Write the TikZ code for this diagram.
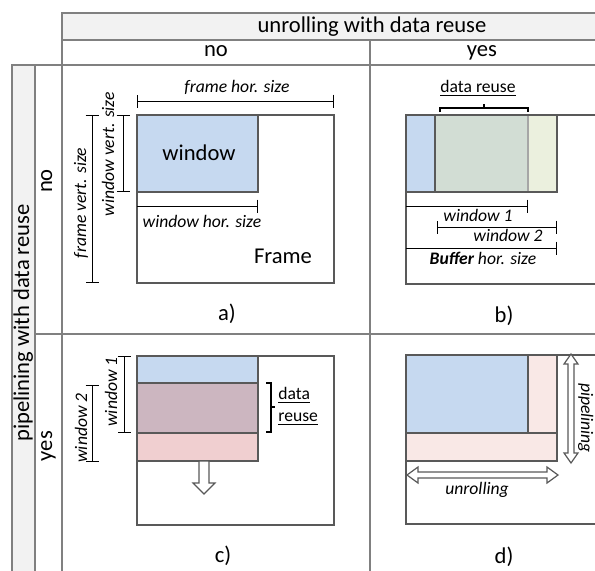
\documentclass[tikz,border=0pt]{standalone}
\usepackage{fontspec}
\setmainfont{Carlito}
\usetikzlibrary{arrows.meta}
\definecolor{gridc}{HTML}{808080}
\definecolor{framec}{HTML}{595959}
\definecolor{hdrfill}{HTML}{F2F2F2}
\definecolor{winblue}{HTML}{C6D9F0}
\definecolor{overlapgreen}{HTML}{D2DDD4}
\definecolor{wingreen}{HTML}{EBF0DE}
\definecolor{winmauve}{HTML}{CCB6C0}
\definecolor{winpink}{HTML}{F0CFD0}
\definecolor{lightpink}{HTML}{F9E8E6}
\definecolor{faintline}{HTML}{A6A6A6}
\begin{document}
\begin{tikzpicture}[x=0.5pt,y=-0.5pt,
  grid/.style={draw=gridc,line width=0.75pt},
  frm/.style={draw=framec,line width=0.65pt},
  big/.style={font=\fontsize{11.3}{13.5}\selectfont,inner sep=0pt,anchor=base},
  lbl/.style={font=\fontsize{8.8}{10.6}\selectfont\itshape,inner sep=0pt,anchor=base},
  plain/.style={font=\fontsize{8.8}{10.6}\selectfont,inner sep=0pt,anchor=base},
  dim/.style={line width=0.5pt,{Bar[width=6.5pt]}-{Bar[width=6.5pt]}},
  dimr/.style={line width=0.5pt,-{Bar[width=6.5pt]}},
  brk/.style={line width=0.65pt},
  hollow/.style={draw=framec,fill=white,line width=0.6pt,line join=miter}]

\useasboundingbox (0,0) rectangle (595,570);
\clip (0,0) rectangle (595,570);

% ---------- table ----------
\fill[hdrfill] (62,13) rectangle (640,40);
\fill[hdrfill] (12,65) rectangle (35,600);
\draw[grid] (640,13) -- (62,13) -- (62,600);
\draw[grid] (62,40) -- (640,40);
\draw[grid] (12,600) -- (12,65) -- (640,65);
\draw[grid] (35,65) -- (35,600);
\draw[grid] (370,40) -- (370,600);
\draw[grid] (35,334) -- (640,334);

\node[big] (hdr) at (372,32) {unrolling with data reuse};
\node[big] (colno) at (216,56) {no};
\node[big] (colyes) at (482,56) {yes};
\node[big,rotate=90] (rowhdr) at (29,323) {pipelining with data reuse};
\node[big,rotate=90] (rowno) at (52,181) {no};
\node[big,rotate=90] (rowyes) at (52,446) {yes};

% ---------- a) ----------
\draw[frm] (137,115) rectangle (334,283);
\draw[frm,fill=winblue] (137,115) rectangle (258,192);
\node[big] (wina) at (199,160) {window};
\node[big] (framea) at (283,263) {Frame};
\draw[dim] (137,101) -- (334,101);
\node[lbl] (fhs) at (237,92) {frame hor. size};
\draw[dim] (123,115) -- (123,192);
\node[lbl,rotate=90] (wvs) at (114,154) {window vert. size};
\draw[dim] (92,115) -- (92,283);
\node[lbl,rotate=90] (fvs) at (86,203) {frame vert. size};
\draw[dimr] (137,206) -- (258,206);
\node[lbl] (whs) at (202,227) {window hor. size};
\node[big] (capa) at (227,320) {a)};

% ---------- b) ----------
\draw[frm] (406,115) rectangle (640,284);
\fill[winblue] (406,115) rectangle (435,192);
\fill[overlapgreen] (435,115) rectangle (528,192);
\fill[wingreen] (528,115) rectangle (557,192);
\draw[faintline,line width=0.6pt] (528,115) -- (528,192);
\draw[frm] (406,115) rectangle (557,192);
\draw[frm] (435,115) -- (435,192);
\draw[brk] (440,112) -- (440,108) -- (528,108) -- (528,112);
\draw[brk] (484,108) -- (484,104);
\node[plain] (reuseb) at (478,92) {\underline{data reuse}};
\draw[dimr] (406,206) -- (528,206);
\node[lbl] (w1b) at (478,221) {window 1};
\draw[dim] (437,227) -- (557,227);
\node[lbl] (w2b) at (508,241) {window 2};
\draw[dimr] (406,248) -- (557,248);
\node[lbl] (bufb) at (483,264) {\textbf{Buffer} hor. size};
\node[big] (capb) at (504,322) {b)};

% ---------- c) ----------
\draw[frm] (137,356) rectangle (334,525);
\fill[winblue] (137,356) rectangle (258,383);
\fill[winmauve] (137,383) rectangle (258,433);
\fill[winpink] (137,433) rectangle (258,461);
\draw[frm] (137,356) rectangle (258,461);
\draw[frm] (137,383) -- (258,383);
\draw[frm] (137,433) -- (258,433);
\draw[hollow] (199,461) -- (209,461) -- (209,483) -- (215,483) -- (204,494)
  -- (193,483) -- (199,483) -- cycle;
\draw[dim] (124,356) -- (124,433);
\node[lbl,rotate=90] (w1c) at (117,392) {window 1};
\draw[dim] (92,385) -- (92,462);
\node[lbl,rotate=90] (w2c) at (87,428) {window 2};
\draw[brk] (266,383) -- (271,383) -- (271,432) -- (266,432);
\draw[brk] (271,407) -- (275,407);
\node[plain,anchor=base west] (reusec1) at (278,399) {\underline{data}};
\node[plain,anchor=base west] (reusec2) at (278,421) {\underline{reuse}};
\node[big] (capc) at (223,562) {c)};

% ---------- d) ----------
\draw[frm] (406,355) rectangle (640,524);
\fill[lightpink] (406,355) rectangle (557,461);
\fill[winblue] (406,355) rectangle (528,433);
\draw[frm] (406,355) rectangle (557,461);
\draw[frm] (406,433) -- (557,433);
\draw[frm] (528,355) -- (528,433);
% pipelining double arrow
\draw[hollow] (571,354) -- (578,364) -- (574,364) -- (574,453) -- (578,453)
  -- (571,463) -- (564,453) -- (568,453) -- (568,364) -- (564,364) -- cycle;
\node[lbl,rotate=-90] (pipe) at (581,418) {pipelining};
% unrolling double arrow
\draw[hollow] (407,475) -- (418,467) -- (418,472) -- (547,472) -- (547,467)
  -- (558,475) -- (547,483) -- (547,478) -- (418,478) -- (418,483) -- cycle;
\node[lbl] (unroll) at (477,494) {unrolling};
\node[big] (capd) at (504,563) {d)};
\end{tikzpicture}
\end{document}
